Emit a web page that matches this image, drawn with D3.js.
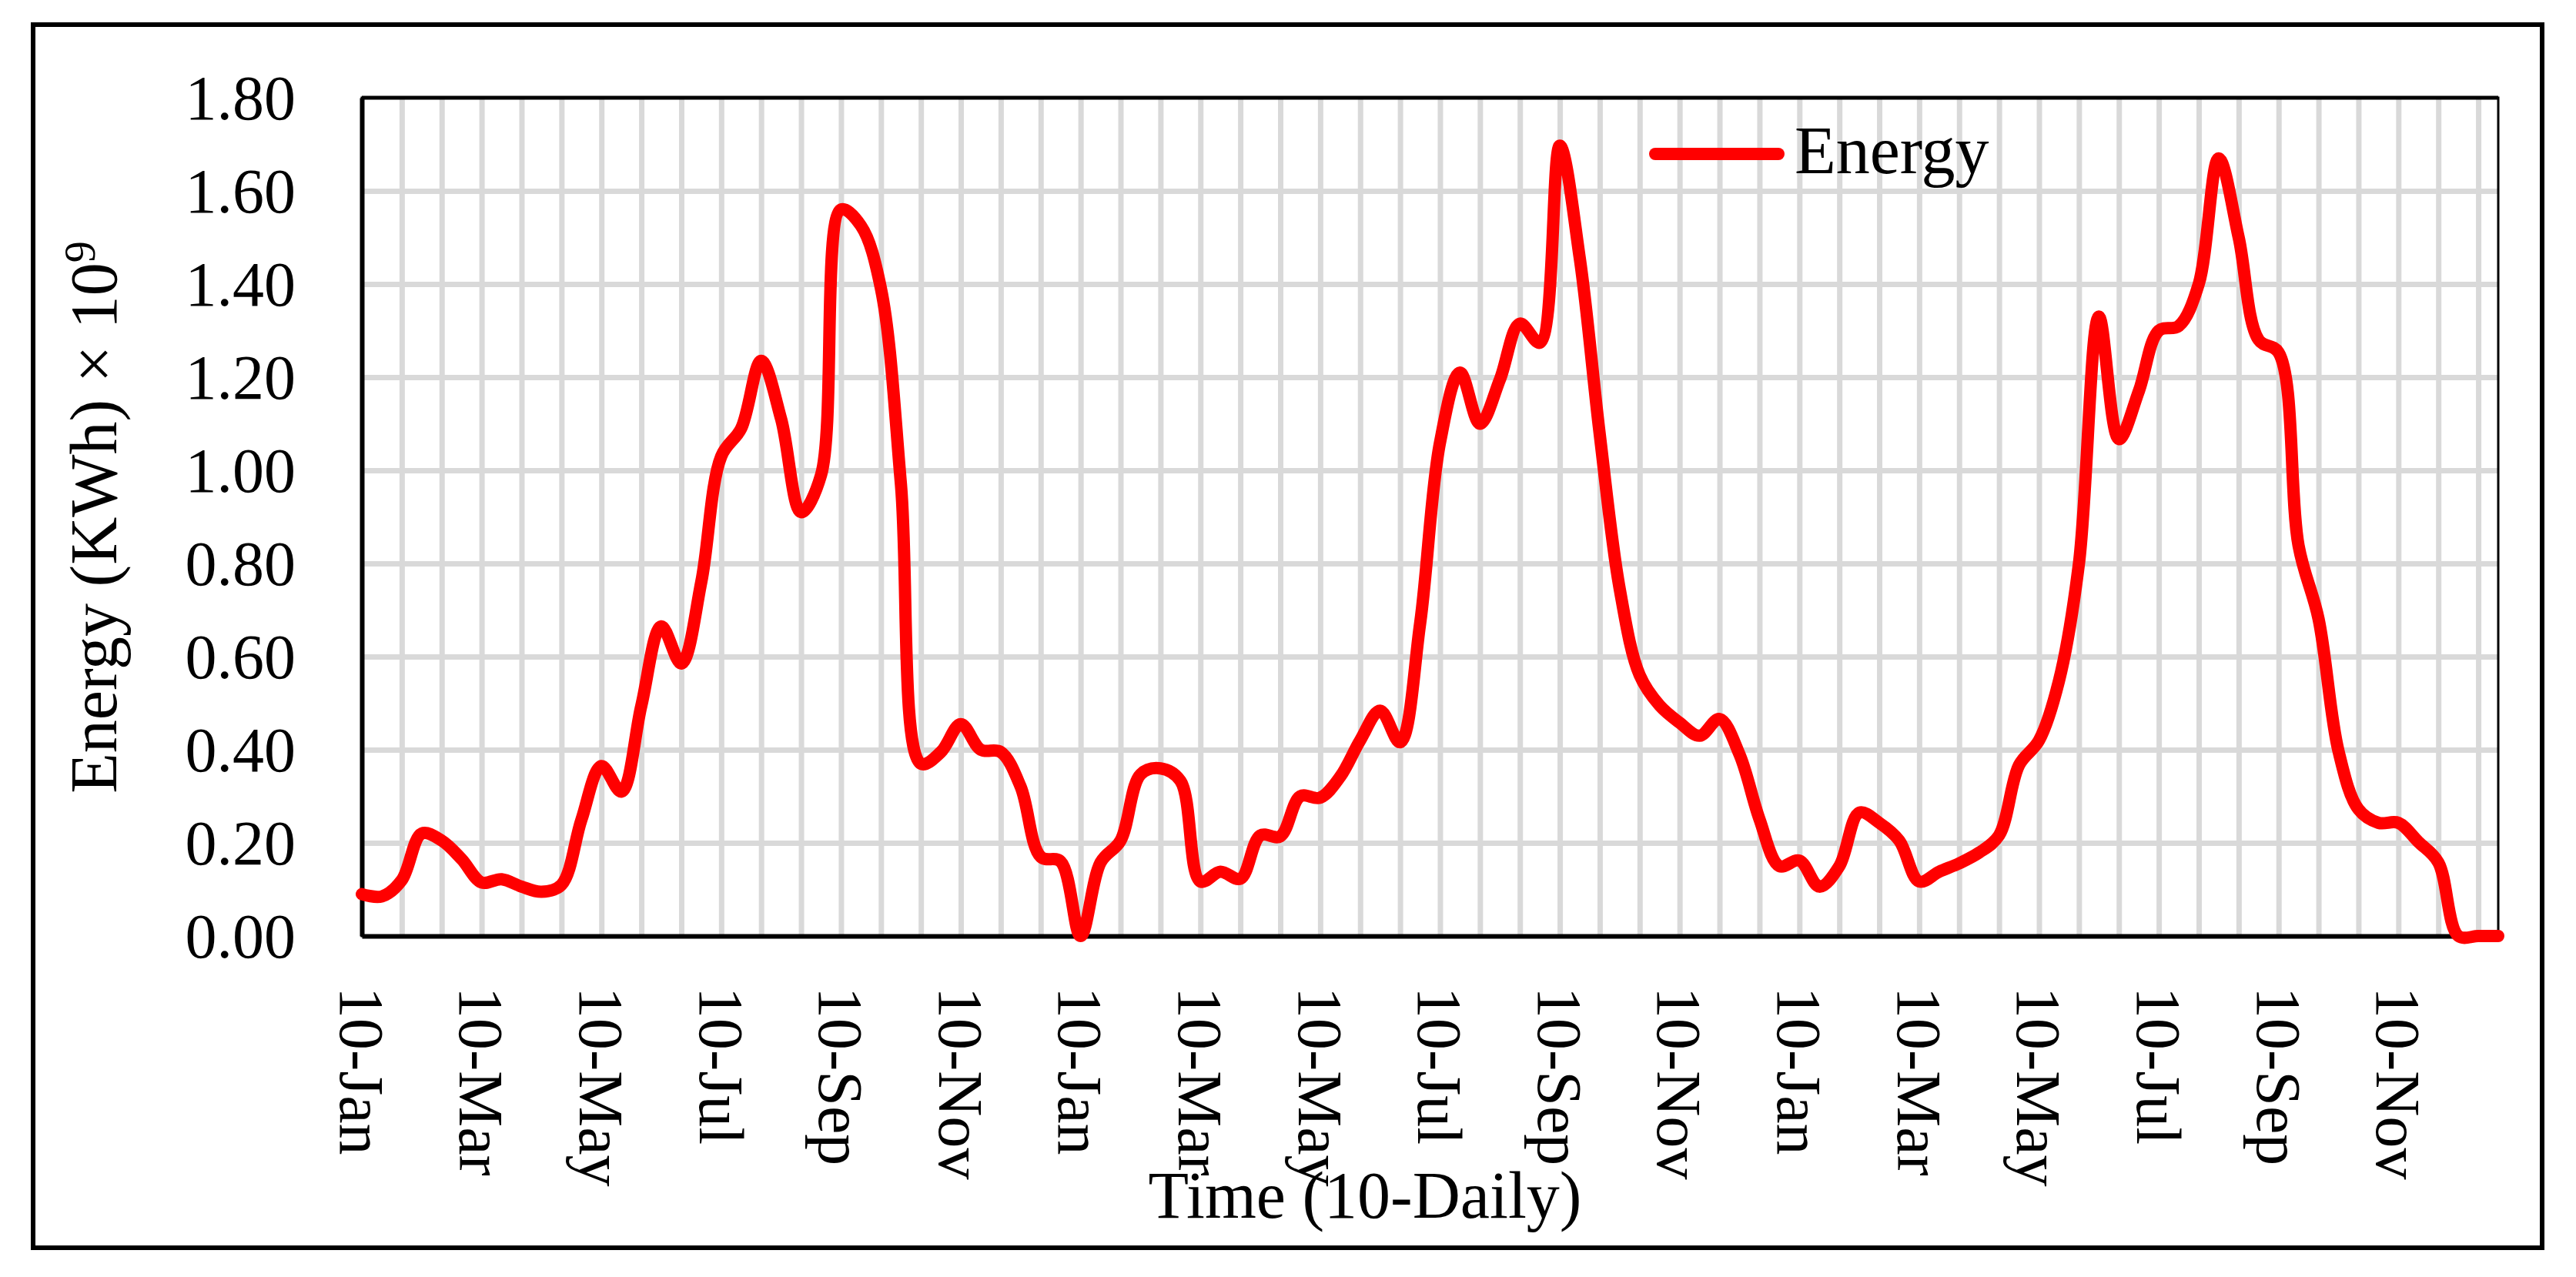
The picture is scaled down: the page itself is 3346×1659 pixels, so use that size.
<!DOCTYPE html>
<html>
<head>
<meta charset="utf-8">
<script src="https://cdn.jsdelivr.net/npm/d3@7"></script>
<style>
  html, body { margin: 0; padding: 0; background: #fff; }
  svg { display: block; }
  text { font-family: "Liberation Serif", "Times New Roman", serif; fill: #000; }
</style>
</head>
<body>
<svg id="chart" width="3346" height="1659"></svg>
<script>
// ---- Data (10-daily energy, three years) ----
const months = ["Jan","Feb","Mar","Apr","May","Jun","Jul","Aug","Sep","Oct","Nov","Dec"];
const dekads = ["10","20","30"];
const years = [1, 2, 3];
const categories = [];
years.forEach(y => months.forEach(m => dekads.forEach(d => categories.push(y + ":" + d + "-" + m))));

const energy = [
  0.09, 0.085, 0.12, 0.22, 0.205, 0.165, 0.115, 0.122, 0.106, 0.095, 0.11, 0.25,
  0.365, 0.31, 0.495, 0.665, 0.585, 0.76, 1.03, 1.09, 1.235, 1.11, 0.91, 0.99,
  1.56, 1.525, 1.39, 0.97, 0.37, 0.395, 0.455, 0.40, 0.395, 0.32, 0.17, 0.16,
  0.0, 0.158, 0.205, 0.347, 0.36, 0.333, 0.117, 0.138, 0.123, 0.216, 0.214, 0.30,
  0.297, 0.342, 0.42, 0.484, 0.416, 0.67, 1.06, 1.21, 1.10, 1.195, 1.315, 1.274,
  1.697, 1.455, 1.077, 0.745, 0.56, 0.495, 0.458, 0.43, 0.466, 0.39, 0.251, 0.15,
  0.162, 0.106, 0.15, 0.265, 0.243, 0.205, 0.117, 0.138, 0.156, 0.179, 0.216, 0.367,
  0.42, 0.548, 0.80, 1.33, 1.067, 1.17, 1.30, 1.31, 1.40, 1.67, 1.50, 1.28,
  1.253, 0.838, 0.681, 0.397, 0.272, 0.243, 0.243, 0.202, 0.158, 0.0, 0.0, 0.0
];

const xTickLabels = ["10-Jan","10-Mar","10-May","10-Jul","10-Sep","10-Nov",
                     "10-Jan","10-Mar","10-May","10-Jul","10-Sep","10-Nov",
                     "10-Jan","10-Mar","10-May","10-Jul","10-Sep","10-Nov"];
const yTicks = [0, 0.2, 0.4, 0.6, 0.8, 1.0, 1.2, 1.4, 1.6, 1.8];
const seriesName = "Energy";

// ---- Layout ----
const svg = d3.select("#chart");
const L = 470, R = 3245, T = 127, B = 1216;

svg.append("rect").attr("x", 0).attr("y", 0).attr("width", 3346).attr("height", 1659).attr("fill", "#fff");
svg.append("rect").attr("x", 43).attr("y", 32).attr("width", 3302 - 43).attr("height", 1621 - 32)
  .attr("fill", "none").attr("stroke", "#000").attr("stroke-width", 6);

const x = d3.scalePoint().domain(categories).range([L, R]);
const y = d3.scaleLinear().domain([0, 1.8]).range([B, T]);

// vertical gridlines every 2 categories
const vGridCats = categories.filter((c, i) => i % 2 === 0 && i > 0);
svg.append("g").attr("transform", `translate(0,${B})`)
  .call(d3.axisBottom(x).tickValues(vGridCats).tickSize(-(B - T)).tickFormat(""))
  .call(g => g.select(".domain").remove())
  .call(g => g.selectAll(".tick line").attr("stroke", "#d9d9d9").attr("stroke-width", 7));

// horizontal gridlines
svg.append("g").attr("transform", `translate(${L},0)`)
  .call(d3.axisLeft(y).tickValues(yTicks.filter(v => v > 0 && v < 1.8)).tickSize(-(R - L)).tickFormat(""))
  .call(g => g.select(".domain").remove())
  .call(g => g.selectAll(".tick line").attr("stroke", "#d9d9d9").attr("stroke-width", 7));

// plot border
svg.append("rect").attr("x", L).attr("y", T).attr("width", R - L).attr("height", B - T)
  .attr("fill", "none").attr("stroke", "#000").attr("stroke-width", 3);
svg.append("line").attr("x1", L).attr("x2", R).attr("y1", T).attr("y2", T).attr("stroke", "#000").attr("stroke-width", 5);

// y axis
const yAxis = svg.append("g").attr("transform", `translate(${L},0)`)
  .call(d3.axisLeft(y).tickValues(yTicks).tickSize(0).tickPadding(86).tickFormat(d3.format(".2f")));
yAxis.select(".domain").attr("stroke", "#000").attr("stroke-width", 6);
yAxis.selectAll(".tick text").attr("font-size", 82).attr("font-family", "Liberation Serif").attr("dy", "0.34em");

// x axis
const xTickCats = categories.filter((c, i) => i % 6 === 0);
const xAxis = svg.append("g").attr("transform", `translate(0,${B})`)
  .call(d3.axisBottom(x).tickValues(xTickCats).tickSize(0)
    .tickFormat((d, i) => xTickLabels[i]));
xAxis.select(".domain").attr("stroke", "#000").attr("stroke-width", 6);
xAxis.selectAll(".tick text")
  .attr("font-size", 82).attr("font-family", "Liberation Serif")
  .attr("text-anchor", "start")
  .attr("transform", "translate(0,66) rotate(90)")
  .attr("x", 0).attr("y", 0).attr("dy", "0.35em");

// axis titles
svg.append("text").attr("transform", "translate(151,672) rotate(-90)")
  .attr("text-anchor", "middle").attr("font-size", 86)
  .call(t => {
    t.append("tspan").text("Energy (KWh) × 10");
    t.append("tspan").attr("font-size", 56).attr("dy", -28).text("9");
  });
svg.append("text").attr("x", 1773).attr("y", 1582).attr("text-anchor", "middle")
  .attr("font-size", 86).text("Time (10-Daily)");

// series line
const line = d3.line()
  .x((d, i) => x(categories[i]))
  .y(d => y(d))
  .curve(d3.curveCatmullRom.alpha(0.5));
svg.append("path").datum(energy).attr("d", line)
  .attr("fill", "none").attr("stroke", "#ff0000").attr("stroke-width", 16)
  .attr("stroke-linejoin", "round").attr("stroke-linecap", "round");

// legend
svg.append("line").attr("x1", 2150).attr("x2", 2310).attr("y1", 200).attr("y2", 200)
  .attr("stroke", "#ff0000").attr("stroke-width", 16).attr("stroke-linecap", "round");
svg.append("text").attr("x", 2331).attr("y", 225).attr("font-size", 88).text(seriesName);
</script>
</body>
</html>
